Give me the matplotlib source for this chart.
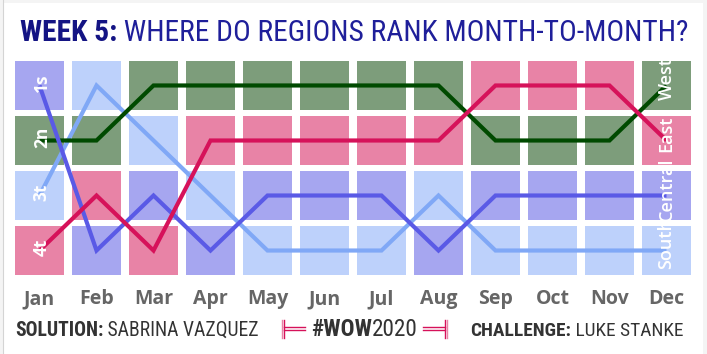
import matplotlib
matplotlib.use('Agg')
import matplotlib.pyplot as plt
from matplotlib.patches import Rectangle
from matplotlib.lines import Line2D
import matplotlib.font_manager as fm

# ---------------- data ----------------
months = ['Jan', 'Feb', 'Mar', 'Apr', 'May', 'Jun', 'Jul', 'Aug', 'Sep', 'Oct', 'Nov', 'Dec']
regions = ['South', 'West', 'Central', 'East']
south_rank = [3, 1, 2, 3, 4, 4, 4, 3, 4, 4, 4, 4]
west_rank = [2, 2, 1, 1, 1, 1, 1, 1, 2, 2, 2, 1]
central_rank = [1, 4, 3, 4, 3, 3, 3, 4, 3, 3, 3, 3]
east_rank = [4, 3, 4, 2, 2, 2, 2, 2, 1, 1, 1, 2]
rank_labels = ['1s', '2n', '3t', '4t']

ranks = {'South': south_rank, 'West': west_rank, 'Central': central_rank, 'East': east_rank}
line_colors = {'South': '#80a8f6', 'West': '#004a00', 'Central': '#5a5ae6', 'East': '#d6125a'}
cell_colors = {'South': '#bdd1fb', 'West': '#7d9d7b', 'Central': '#a6a6f0', 'East': '#e883a6'}

# ---------------- fonts ----------------
names = {f.name for f in fm.fontManager.ttflist}
narrow = next((n for n in ['Liberation Sans Narrow', 'Roboto Condensed', 'Open Sans Condensed'] if n in names), 'Liberation Sans')
sans = 'Open Sans' if 'Open Sans' in names else 'DejaVu Sans'

W, H = 707, 354
fig = plt.figure(figsize=(W / 100, H / 100), dpi=100)
fig.patch.set_facecolor('#f4f4f4')
bg = Rectangle((3 / W, 0), 700 / W, 351 / H, transform=fig.transFigure,
               facecolor='white', edgecolor='none', zorder=-10)
fig.patches.append(bg)
fig.lines.append(Line2D([3 / W, 3 / W], [0, 1], transform=fig.transFigure, color='#d4d4d4', lw=0.8, zorder=-9))


def fx(x):
    return x / W


def fy(y):
    return 1 - y / H


ax = fig.add_axes([fx(15), fy(275), 676 / W, 214 / H])
ax.set_xlim(-0.43, 11.43)
ax.set_ylim(4.445, 0.555)
ax.axis('off')
ax.set_zorder(1)

xs = list(range(len(months)))
for reg in regions:
    for i, r in zip(xs, ranks[reg]):
        ax.add_patch(Rectangle((i - 0.43, r - 0.445), 0.86, 0.89,
                               facecolor=cell_colors[reg], edgecolor='none', zorder=1))

for reg in ['South', 'West', 'Central', 'East']:
    ax.plot(xs, ranks[reg], color=line_colors[reg], lw=3.0, zorder=3,
            solid_joinstyle='miter', solid_capstyle='butt')

for reg in regions:
    r0 = ranks[reg][0]
    ax.text(0.04, r0 - 0.05, rank_labels[r0 - 1], rotation=90, ha='center', va='center',
            color='white', fontsize=12.5, fontweight='bold', family=sans, zorder=5)
    r1 = ranks[reg][-1]
    ax.text(11.0, r1 - 0.12, reg, rotation=90, ha='center', va='center',
            color='white', fontsize=13, fontweight='semibold', family=sans, zorder=5)

# month labels
for i, m in enumerate(months):
    fig.text(fx(39.5 + 57 * i), fy(304), m, ha='center', va='baseline',
             color='#666666', fontsize=14, fontweight='bold', family=sans)

fig.canvas.draw()
renderer = fig.canvas.get_renderer()


def run_text(x0, y_base, parts, target_width=None, size=12):
    """Draw consecutive text parts; optionally scale size to fit target width."""
    def draw(s):
        objs = []
        x = x0
        for txt, weight, color in parts:
            t = fig.text(fx(x), fy(y_base), txt, ha='left', va='baseline', fontsize=s,
                         fontweight=weight, color=color, family=narrow)
            bb = t.get_window_extent(renderer)
            x += bb.width
            objs.append(t)
        return objs, x - x0
    objs, w = draw(size)
    if target_width is not None:
        for o in objs:
            o.remove()
        size = size * target_width / w
        objs, w = draw(size)
    return objs


run_text(20, 41, [('WEEK 5:', 'bold', '#141484'), (' WHERE DO REGIONS RANK MONTH-TO-MONTH?', 'normal', '#1f1f9a')],
         target_width=668, size=18)
run_text(15, 336, [('SOLUTION:', 'bold', '#333333'), (' SABRINA VAZQUEZ', 'normal', '#333333')],
         target_width=243, size=12)
run_text(311, 336, [('#WOW', 'bold', '#333333'), ('2020', 'normal', '#333333')],
         target_width=106, size=12)
run_text(470, 336, [('CHALLENGE:', 'bold', '#333333'), (' LUKE STANKE', 'normal', '#333333')],
         target_width=213, size=12)

# decorative brackets around #WOW2020
deco = '#d6125a'
pink = '#e883a6'
for xv, col in [(282, pink), (284, deco)]:
    fig.lines.append(Line2D([fx(xv), fx(xv)], [fy(320), fy(338)], transform=fig.transFigure, color=col, lw=1.0))
for yv in (327, 330):
    fig.lines.append(Line2D([fx(284), fx(305)], [fy(yv), fy(yv)], transform=fig.transFigure, color=deco, lw=1.0))
for xv, col in [(447, pink), (445, deco)]:
    fig.lines.append(Line2D([fx(xv), fx(xv)], [fy(320), fy(338)], transform=fig.transFigure, color=col, lw=1.0))
for yv in (327, 330):
    fig.lines.append(Line2D([fx(423), fx(445)], [fy(yv), fy(yv)], transform=fig.transFigure, color=deco, lw=1.0))

fig.savefig('out.png', dpi=100, facecolor=fig.get_facecolor())
